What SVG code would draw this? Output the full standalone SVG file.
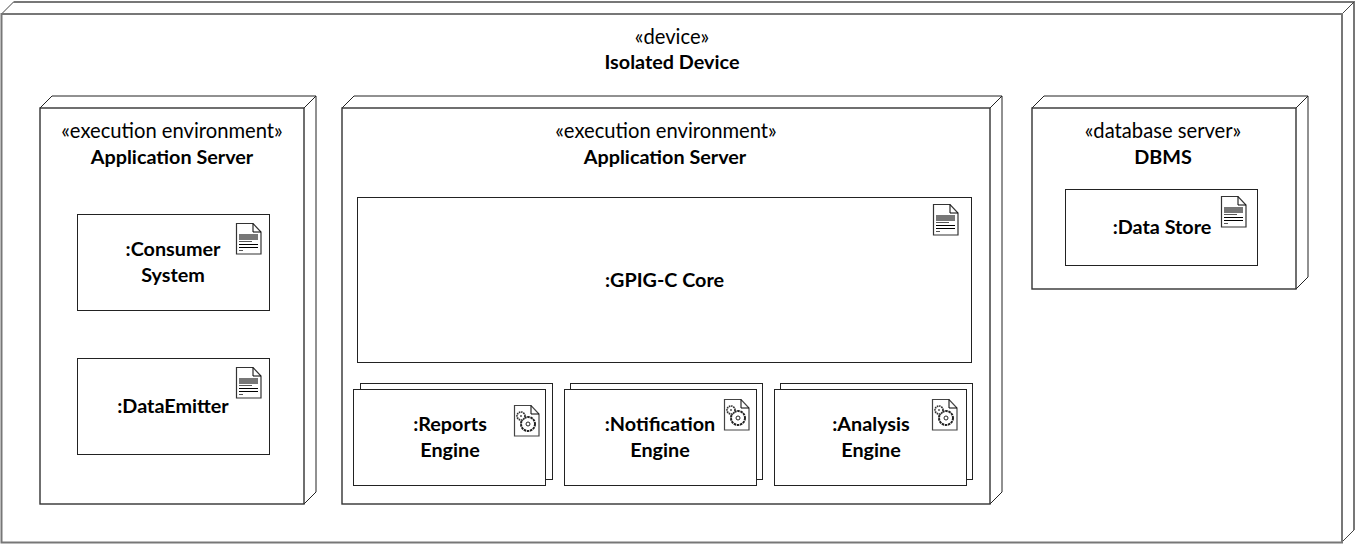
<svg xmlns="http://www.w3.org/2000/svg" width="1356" height="544" viewBox="0 0 1356 544">
<style>
.o{fill:none;stroke:#777;stroke-width:2}
.d{fill:none;stroke:#444;stroke-width:1}
.n{fill:none;stroke:#333;stroke-width:1.4}
.k{fill:none;stroke:#222;stroke-width:1}
.m{fill:#fff;stroke:#222;stroke-width:1}
text{font-family:Lato,"Open Sans","Liberation Sans",sans-serif;text-anchor:middle;fill:#000;font-size:20.2px}
.b{font-weight:700;font-size:19.8px}
</style>
<defs>
<g id="doc">
<path d="M0.5 0.500H17L25 9V31H0.500Z" fill="#fff" stroke="#333" stroke-width="1.2"/>
<path d="M17 0.500V9H25" fill="none" stroke="#000"/>
<rect x="3" y="11" width="19" height="6" fill="#777"/>
<path d="M3 18.500H16" stroke="#555"/>
<path d="M3 21.500H22M3 24.500H22" stroke="#000"/>
<path d="M3 27.500H7" stroke="#555"/>
</g>
<g id="gear">
<path d="M0.5 0.500H17L25 9V31H0.500Z" fill="#fff" stroke="#444" stroke-width="1.2"/>
<path d="M17 0.500V9H25" fill="none" stroke="#000"/>
<circle cx="14" cy="19" r="7" fill="none" stroke="#222" stroke-width="2" stroke-dasharray="2.500 0.700"/>
<circle cx="14" cy="19" r="2" fill="none" stroke="#222"/>
<circle cx="7" cy="11" r="4" fill="#fff" stroke="#333" stroke-width="1.7" stroke-dasharray="1.600 0.700"/>
<circle cx="7" cy="11" r="1" fill="#555"/>
</g>
</defs>
<g id="connectors"></g>
<g id="isolated-device">
<path class="o" d="M13.500 2H1354V530"/>
<path class="d" d="M1.500 14L13.500 2M1342 14L1354 2M1342 542L1354 530"/>
<rect class="o" x="1.500" y="14" width="1340.500" height="528.500"/>
<text x="672" y="44">«device»</text>
<text x="672" y="69" class="b">Isolated Device</text>
</g>
<g id="app-server-left">
<path class="k" d="M40 108L52 96H316V492L304 504M304 108L316 96"/>
<rect class="n" x="40" y="108" width="264" height="396"/>
<text x="172" y="138">«execution environment»</text>
<text x="172" y="164" class="b">Application Server</text>
</g>
<g id="consumer-system">
<rect class="m" x="77.500" y="214.500" width="192" height="96"/>
<use href="#doc" x="236" y="223"/>
<text x="173" y="256" class="b">:Consumer</text>
<text x="173" y="282" class="b">System</text>
</g>
<g id="data-emitter">
<rect class="m" x="77.500" y="358.500" width="192" height="96"/>
<use href="#doc" x="236" y="367"/>
<text x="173" y="413" class="b">:DataEmitter</text>
</g>
<g id="app-server-main">
<path class="k" d="M342 108L354 96H1002V492L990 504M990 108L1002 96"/>
<rect class="n" x="342" y="108" width="648" height="396"/>
<text x="666" y="138">«execution environment»</text>
<text x="665" y="164" class="b">Application Server</text>
</g>
<g id="gpig-core">
<rect class="m" x="357.500" y="197.500" width="614" height="165"/>
<use href="#doc" x="933" y="204"/>
<text x="664.500" y="287" class="b">:GPIG-C Core</text>
</g>
<g id="reports-engine">
<rect class="m" x="360.500" y="383.500" width="192" height="96"/>
<rect class="m" x="353.500" y="389.500" width="192" height="96"/>
<use href="#gear" x="514" y="405"/>
<text x="450" y="431" class="b">:Reports</text>
<text x="450" y="457" class="b">Engine</text>
</g>
<g id="notification-engine">
<rect class="m" x="570.500" y="383.500" width="192" height="96"/>
<rect class="m" x="564.500" y="389.500" width="192" height="96"/>
<use href="#gear" x="724" y="399"/>
<text x="660" y="431" class="b">:Notification</text>
<text x="660" y="457" class="b">Engine</text>
</g>
<g id="analysis-engine">
<rect class="m" x="780.500" y="383.500" width="192" height="96"/>
<rect class="m" x="774.500" y="389.500" width="192" height="96"/>
<use href="#gear" x="932" y="399"/>
<text x="871" y="431" class="b">:Analysis</text>
<text x="871" y="457" class="b">Engine</text>
</g>
<g id="dbms">
<path class="k" d="M1032 108L1044 96H1308V277L1296 289M1296 108L1308 96"/>
<rect class="n" x="1032" y="108" width="264" height="181"/>
<text x="1163" y="138">«database server»</text>
<text x="1163" y="164" class="b">DBMS</text>
</g>
<g id="data-store">
<rect class="m" x="1065.500" y="189.500" width="192" height="76"/>
<use href="#doc" x="1221" y="196"/>
<text x="1162" y="234" class="b">:Data Store</text>
</g>
</svg>
